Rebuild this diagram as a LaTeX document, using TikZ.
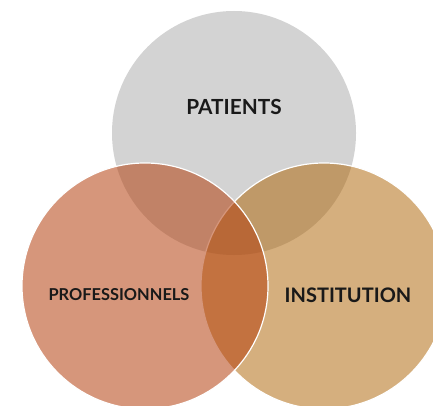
\documentclass[tikz,border=0pt]{standalone}
\usepackage{fontspec}
\setmainfont{Lato}
\usepackage{tikz}
\definecolor{patgray}{RGB}{211,211,211}
\definecolor{profbrown}{RGB}{180,64,15}
\definecolor{instochre}{RGB}{174,101,7}
\tikzset{label text/.style={font=\bfseries, text=black!90}}
\begin{document}
\begin{tikzpicture}[x=1pt, y=-1pt]
\useasboundingbox (0,0) rectangle (433,406);
\clip (0,0) rectangle (433,406);
\fill[patgray] (234,133) circle (122);
\draw[white, line width=1.2, fill=instochre, fill opacity=.52] (324,286) circle (123);
\draw[white, line width=1.2, fill=profbrown, fill opacity=.55] (145,286) circle (123);
\node[label text, font=\bfseries\fontsize{20.8}{20.8}\selectfont] (patients) at (234,107) {PATIENTS};
\node[label text, font=\bfseries\fontsize{16.4}{16.4}\selectfont] (prof) at (119,295) {PROFESSIONNELS};
\node[label text, font=\bfseries\fontsize{20}{20}\selectfont] (inst) at (348,295) {INSTITUTION};
\end{tikzpicture}
\end{document}
